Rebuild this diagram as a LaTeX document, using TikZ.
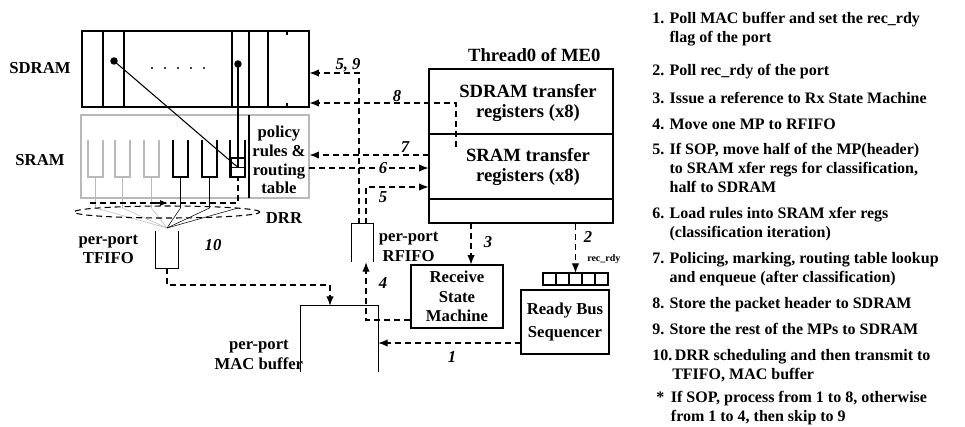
\documentclass[tikz,border=0pt]{standalone}
\usepackage{fontspec}
\setmainfont{Liberation Serif}
\usetikzlibrary{arrows.meta,positioning,calc}

\newcommand{\stepno}[1]{\makebox[13pt][l]{#1}}

\tikzset{
  box/.style={draw, thick, inner sep=0pt},
  wh/.style 2 args={minimum width=#1*0.75pt, minimum height=#2*0.75pt},
  lbl/.style={font=\fontsize{12.5}{14.5}\selectfont\bfseries, inner sep=0pt, align=center},
  biglbl/.style={lbl, font=\fontsize{14}{15}\selectfont\bfseries},
  num/.style={font=\fontsize{12.5}{14.5}\selectfont\bfseries\itshape, inner sep=0pt},
  link/.style={dash pattern=on 4.5pt off 3pt, thick},
  flow/.style={link, -{Latex[length=7pt,width=5.5pt]}},
  note/.style={font=\fontsize{12}{14.25}\selectfont\bfseries, inner sep=0pt, anchor=base west, align=left},
}

\begin{document}
\begin{tikzpicture}[x=0.75pt,y=-0.75pt]
\useasboundingbox (0,0) rectangle (965,426);

% SDRAM
\node[box, wh={227}{76}] (sdram) at (195.5,69) {};
\node[lbl] (sdramlbl) at (40,68) {SDRAM};
\foreach \c in {103,124,232,249,268}
  \draw[thick] (\c,31) -- (\c,107);
\draw[thick] (287,31) -- (287,35) (287,103) -- (287,107);
\foreach \c in {152,165,178,191,204}
  \fill (\c,68) circle (0.9pt);
\coordinate (hd) at (114,61);
\coordinate (tl) at (238,64);
\fill (hd) circle (2.8pt) (tl) circle (2.8pt);

% SRAM
\node[box, draw=gray!55, wh={228}{83}] (sram) at (195,156.5) {};
\node[lbl] (sramlbl) at (40,160) {SRAM};
\draw[thick] (249,115) -- (249,198);
\node[lbl, font=\fontsize{12.5}{14}\selectfont\bfseries] (policy) at (279,160) {policy\\rules \&\\routing\\table};

% queues and DRR
\coordinate (merge) at (167,228);
\foreach \q/\col in {88/gray!55,115/gray!55,144/gray!55,173/black,202/black} {
  \draw[thick, \col] (\q,140) -- (\q,177) -- (\q+15,177) -- (\q+15,140);
  \draw[\col] (\q+7.5,177) -- (\q+7.5,208) -- (merge);
}
\draw[thick] (230,140) -- (230,177) -- (245,177) -- (245,140);
\node[box, wh={14}{19}] (ptr) at (238,167.5) {};
\draw (ptr.west) -- (ptr.east);
\draw[thick] (tl) -- (ptr.center);
\draw[thick] (hd) -- (ptr.center);
\draw[link] (90,203) -- (238,203) -- (ptr.south);
\draw[thick, -{Latex[length=6pt,width=4.5pt]}] (150,203) -- (168,203);
\draw (238,208) -- (merge);
\draw[link] (167,212) ellipse [x radius=69.75pt, y radius=4.5pt];
\node[lbl] (drr) at (284,218) {DRR};

% FIFOs and MAC buffer
\node[wh={22}{37}, inner sep=0pt] (tfifo) at (167,249.5) {};
\draw[thick] (tfifo.north west) -- (tfifo.south west) -- (tfifo.south east) -- (tfifo.north east);
\node[lbl, left=13pt of tfifo] (tfifolbl) {per-port\\TFIFO};
\node[num] (n10) at (213,245) {10};

\node[wh={21}{38}, inner sep=0pt] (rfifo) at (362.5,243) {};
\draw[thick] (rfifo.south west) -- (rfifo.north west) -- (rfifo.north east) -- (rfifo.south east);
\node[lbl, right=4pt of rfifo, yshift=-3pt] (rfifolbl) {per-port\\RFIFO};

\node[wh={77}{66}, inner sep=0pt] (mac) at (339.5,339) {};
\draw[thick] (mac.south west) -- (mac.north west) -- (mac.north east) -- (mac.south east);
\node[lbl, anchor=east] (maclbl) at ([xshift=2pt,yshift=-12pt]mac.west) {per-port\\MAC buffer};

% microengine thread
\node[box, wh={184}{154}] (thread) at (521,146) {};
\draw[thick] (429,134) -- (613,134) (429,199) -- (613,199);
\node[biglbl, above=5pt of thread, xshift=10pt] (thrlbl) {Thread0 of ME0};
\node[biglbl] (sdxfer) at (528,103) {SDRAM transfer\\registers (x8)};
\node[biglbl] (srxfer) at (528,167) {SRAM transfer\\registers (x8)};

% receive side
\node[box, wh={92}{63}, lbl] (rsm) at (457,296.5) {Receive\\State\\Machine};
\node[box, wh={88}{64}, lbl, font=\fontsize{12.5}{17}\selectfont\bfseries] (rbs) at (565,322) {Ready Bus\\Sequencer};
\node[wh={65}{12}, inner sep=0pt] (recrdy) at (575.5,279) {};
\foreach \k in {0,...,4}
  \draw[thick] (543+13*\k,273) rectangle (556+13*\k,285);
\node[lbl, font=\fontsize{7.5}{9}\selectfont\bfseries, anchor=west] (rdylbl) at (587,259) {rec\_rdy};

% numbered flows
\coordinate (q1) at (521,343);
\draw[flow] (q1) -- (q1 -| mac.east);
\node[num] (n1) at (452,357) {1};

\draw[flow] (thread.south -| recrdy.north) -- (recrdy.north);
\node[num] (n2) at (588,237) {2};

\coordinate (q3) at (471,223);
\draw[flow] (q3) -- (q3 |- rsm.north);
\node[num] (n3) at (488,242) {3};

\coordinate (q4) at (366,320);
\draw[flow] (q4 -| rsm.west) -- (q4) -- (q4 |- rfifo.south);
\node[num] (n4) at (383,283) {4};

\coordinate (q5) at (366,187);
\draw[flow] (q5 |- rfifo.north) -- (q5) -- (q5 -| thread.west);
\node[num] (n5) at (383,197) {5};

\coordinate (q59) at (359,73);
\draw[flow] (q59 |- rfifo.north) -- (q59) -- (q59 -| sdram.east);
\node[num] (n59) at (348,65) {5, 9};

\coordinate (q6) at (309,168);
\draw[flow] (q6) -- (q6 -| thread.west);
\node[num, fill=white, inner sep=1.5pt] (n6) at (383,168) {6};

\coordinate (q7) at (429,155);
\draw[flow] (q7) -- (q7 -| sram.east);
\node[num] (n7) at (405,147) {7};

\coordinate (s8) at (456,147);
\coordinate (q8) at (456,103);
\draw[flow] (s8) -- (q8) -- (q8 -| sdram.east);
\node[num] (n8) at (397,96) {8};

\coordinate (q10) at (330,285);
\draw[flow] (tfifo.south) |- (q10) -- (q10 |- mac.north);

% steps (anchored at the baseline of their last line)
\node[note] (st1) at (652,42) {\stepno{1.}Poll MAC buffer and set the rec\_rdy\\\hspace*{13pt}flag of the port};
\node[note] (st2) at (652,75) {\stepno{2.}Poll rec\_rdy of the port};
\node[note] (st3) at (652,103) {\stepno{3.}Issue a reference to Rx State Machine};
\node[note] (st4) at (652,129) {\stepno{4.}Move one MP to RFIFO};
\node[note] (st5) at (652,192) {\stepno{5.}If SOP, move half of the MP(header)\\\hspace*{13pt}to SRAM xfer regs for classification,\\\hspace*{13pt}half to SDRAM};
\node[note] (st6) at (652,237) {\stepno{6.}Load rules into SRAM xfer regs\\\hspace*{13pt}(classification iteration)};
\node[note] (st7) at (652,282) {\stepno{7.}Policing, marking, routing table lookup\\\hspace*{13pt}and enqueue (after classification)};
\node[note] (st8) at (652,308) {\stepno{8.}Store the packet header to SDRAM};
\node[note] (st9) at (652,334) {\stepno{9.}Store the rest of the MPs to SDRAM};
\node[note] (st10) at (652,379) {\makebox[17pt][l]{10.}DRR scheduling and then transmit to\\\hspace*{15pt}TFIFO, MAC buffer};
\node[note] (stnote) at (656,421) {\makebox[11pt][l]{*}If SOP, process from 1 to 8, otherwise\\\hspace*{11pt}from 1 to 4, then skip to 9};
\end{tikzpicture}
\end{document}
